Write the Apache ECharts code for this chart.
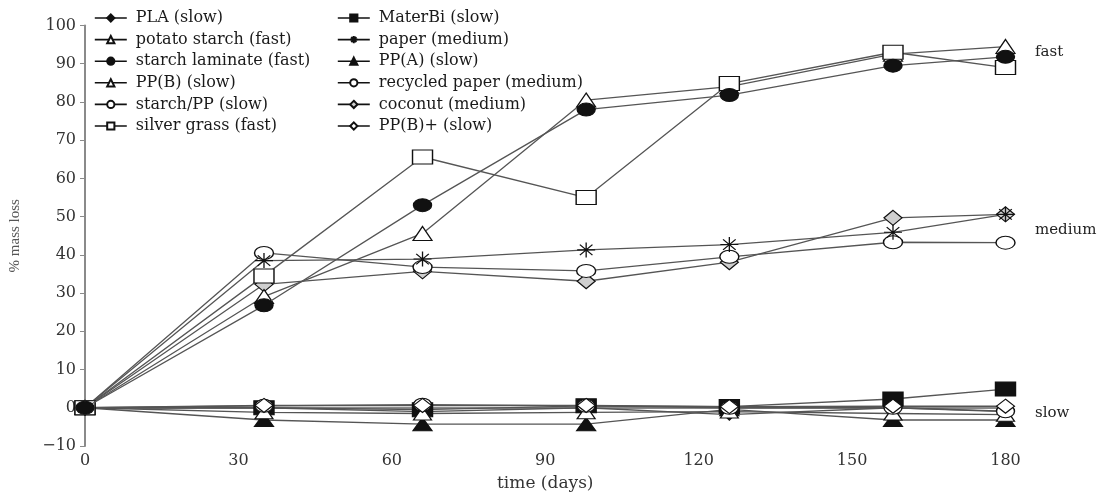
<!DOCTYPE html>
<html>
<head>
<meta charset="utf-8">
<script src="https://cdn.jsdelivr.net/npm/echarts@6/dist/echarts.min.js"></script>
<style>
html,body{margin:0;padding:0;background:#fff;}
#c{width:1110px;height:497px;}
</style>
</head>
<body>
<div id="c"></div>
<script>
// ---- data ----
const days = [0, 35, 66, 98, 126, 158, 180];
const xTicks = [0, 30, 60, 90, 120, 150, 180];
const yTicks = [-10, 0, 10, 20, 30, 40, 50, 60, 70, 80, 90, 100];

const pla            = [0, 0, -1, 0, -1.8, 0, -1];
const materBi        = [0, 0, -0.5, 0.5, 0.3, 2.3, 4.9];
const potatoStarch   = [0, 29.1, 45.6, 80.5, 84, 92.5, 94.5];
const paper          = [0, 38.5, 38.9, 41.3, 42.7, 45.9, 50.6];
const starchLaminate = [0, 26.8, 53, 78, 81.8, 89.5, 91.8];
const ppA            = [0, -3.2, -4.3, -4.3, -0.4, -3.2, -3.2];
const ppB            = [0, -1.2, -1.5, -1.2, -1, -1.5, -1.8];
const recycledPaper  = [0, 40.5, 36.8, 35.8, 39.5, 43.3, 43.2];
const starchPP       = [0, 0.5, 0.8, 0.5, 0, 0, -0.9];
const coconut        = [0, 32.3, 35.7, 33.1, 38.1, 49.7, 50.6];
const silverGrass    = [0, 34.5, 65.6, 55, 84.8, 93, 89];
const ppBplus        = [0, 0.6, 0.6, 0.6, 0.3, 0.4, 0.4];

const groupLabels = ['fast', 'medium', 'slow'];

const names1 = ['PLA (slow)', 'potato starch (fast)', 'starch laminate (fast)', 'PP(B) (slow)', 'starch/PP (slow)', 'silver grass (fast)'];
const names2 = ['MaterBi (slow)', 'paper (medium)', 'PP(A) (slow)', 'recycled paper (medium)', 'coconut (medium)', 'PP(B)+ (slow)'];

// ---- styles ----
const asterisk = 'path://M10,0L10,20M0,10L20,10M3,3L17,17M3,17L17,3';
const BLACK = '#111';
const SERIF = '"DejaVu Serif", "Liberation Serif", serif';
const TIMES = '"Liberation Serif", serif';

function mk(name, values, symbol, size, fill, z) {
  return {
    name: name,
    type: 'line',
    data: days.map((d, i) => [d, values[i]]),
    symbol: symbol,
    symbolSize: size,
    showAllSymbol: true,
    lineStyle: { color: '#555', width: 1.3 },
    itemStyle: { color: fill, borderColor: BLACK, borderWidth: 1.2 },
    emphasis: { disabled: true },
    z: z,
    animation: false
  };
}

const series = [
  mk('MaterBi (slow)', materBi, 'rect', [20, 14], BLACK, 2),
  mk('PLA (slow)', pla, 'diamond', [11, 11], BLACK, 2),
  mk('PP(A) (slow)', ppA, 'triangle', [19, 13], BLACK, 2),
  mk('PP(B) (slow)', ppB, 'triangle', [18, 13], '#fff', 2),
  mk('starch/PP (slow)', starchPP, 'circle', [18, 13], '#fff', 2),
  mk('PP(B)+ (slow)', ppBplus, 'diamond', [18, 14], '#fff', 2),
  mk('coconut (medium)', coconut, 'diamond', [18, 15], '#cfcfcf', 3),
  mk('recycled paper (medium)', recycledPaper, 'circle', [19, 13], '#fff', 3),
  mk('paper (medium)', paper, asterisk, [18, 15], 'rgba(0,0,0,0)', 3),
  mk('potato starch (fast)', potatoStarch, 'triangle', [19, 14], '#fff', 3),
  mk('silver grass (fast)', silverGrass, 'rect', [20, 14], '#fff', 4),
  mk('starch laminate (fast)', starchLaminate, 'circle', [18, 13], BLACK, 5)
];

const legendBase = {
  orient: 'vertical',
  top: 10,
  padding: 0,
  itemWidth: 32,
  itemHeight: 9,
  itemGap: 5.6,
  selectedMode: false,
  textStyle: { fontFamily: SERIF, fontSize: 16, color: '#1a1a1a', padding: [0, 0, 0, 4] },
  lineStyle: { color: BLACK, width: 1.6 }
};

const chart = echarts.init(document.getElementById('c'), null, { renderer: 'canvas' });
chart.setOption({
  backgroundColor: '#fff',
  animation: false,
  grid: { left: 84.5, right: 104.5, top: 25.5, bottom: 43, containLabel: false },
  legend: [
    Object.assign({}, legendBase, { left: 94, data: names1 }),
    Object.assign({}, legendBase, { left: 337, data: names2 })
  ],
  xAxis: {
    type: 'value',
    min: xTicks[0],
    max: xTicks[xTicks.length - 1],
    interval: 30,
    name: 'time (days)',
    nameLocation: 'middle',
    nameGap: 29,
    nameTextStyle: { fontFamily: SERIF, fontSize: 17, color: '#333' },
    axisLine: { lineStyle: { color: '#8a8a8a', width: 2 } },
    axisTick: { show: false },
    splitLine: { show: false },
    axisLabel: { fontFamily: SERIF, fontSize: 16, color: '#333', margin: 7 }
  },
  yAxis: {
    type: 'value',
    min: yTicks[0],
    max: yTicks[yTicks.length - 1],
    interval: 10,
    name: '% mass loss',
    nameLocation: 'middle',
    nameGap: 62,
    nameTextStyle: { fontFamily: TIMES, fontSize: 15, color: '#555' },
    axisLine: { show: true, onZero: false, lineStyle: { color: '#8a8a8a', width: 2 } },
    axisTick: { show: true, length: 5, lineStyle: { color: '#8a8a8a' } },
    splitLine: { show: false },
    axisLabel: {
      fontFamily: SERIF, fontSize: 16, color: '#333', margin: 9,
      formatter: v => (v < 0 ? '\u2212' + Math.abs(v) : String(v))
    }
  },
  graphic: [
    { type: 'text', left: 1035, top: 45, style: { text: groupLabels[0], font: '15px ' + SERIF, fill: '#222' } },
    { type: 'text', left: 1035, top: 223, style: { text: groupLabels[1], font: '15px ' + SERIF, fill: '#222' } },
    { type: 'text', left: 1035, top: 406, style: { text: groupLabels[2], font: '15px ' + SERIF, fill: '#222' } }
  ],
  series: series
});
</script>
</body>
</html>
